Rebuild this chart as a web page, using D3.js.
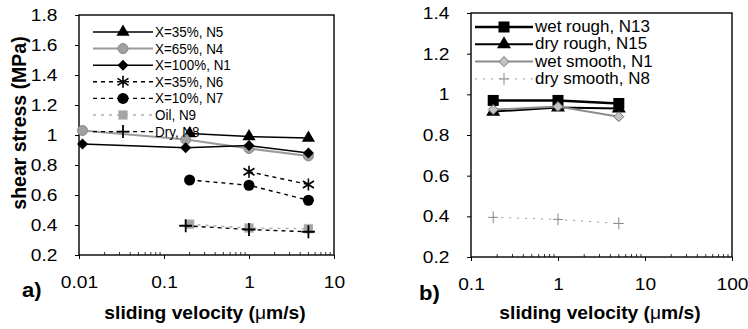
<!DOCTYPE html>
<html><head><meta charset="utf-8">
<script src="https://cdn.jsdelivr.net/npm/d3@7"></script>
<style>html,body{margin:0;padding:0;background:#fff}svg{display:block}</style>
</head><body><svg id="c" width="748" height="329"></svg>
<script>
// ---------- DATA ----------
// panel a)
const aLabels = ["X=35%, N5","X=65%, N4","X=100%, N1","X=35%, N6","X=10%, N7","Oil, N9","Dry, N8"];
const aN5x = [0.2, 1, 5],        aN5y = [1.01, 0.99, 0.98];
const aN4x = [0.011, 0.18, 1, 5], aN4y = [1.03, 0.97, 0.91, 0.86];
const aN1x = [0.011, 0.18, 1, 5], aN1y = [0.94, 0.915, 0.93, 0.88];
const aN6x = [1, 5],             aN6y = [0.755, 0.67];
const aN7x = [0.2, 1, 5],        aN7y = [0.70, 0.665, 0.565];
const aN9x = [0.2, 1, 5],        aN9y = [0.405, 0.38, 0.375];
const aN8x = [0.18, 1, 5],       aN8y = [0.395, 0.37, 0.355];
const aXTicks = [0.01, 0.1, 1, 10];
const aYTicks = [0.2, 0.4, 0.6, 0.8, 1, 1.2, 1.4, 1.6, 1.8];
// panel b)
const bLabels = ["wet rough, N13","dry rough, N15","wet smooth, N1","dry smooth, N8"];
const bN13x = [0.18, 1, 5], bN13y = [0.97, 0.97, 0.955];
const bN15x = [0.18, 1, 5], bN15y = [0.915, 0.935, 0.93];
const bN1x  = [0.18, 1, 5], bN1y  = [0.925, 0.94, 0.89];
const bN8x  = [0.18, 1, 5], bN8y  = [0.395, 0.385, 0.365];
const bXTicks = [0.1, 1, 10, 100];
const bYTicks = [0.2, 0.4, 0.6, 0.8, 1, 1.2, 1.4];
const xTitle = "sliding velocity (", xTitleMu = "\u03bc", xTitleEnd = "m/s)";
const yTitle = "shear stress (MPa)";

// ---------- DRAW ----------
const svg = d3.select("#c");
const FONT = "'Liberation Sans', Arial, Helvetica, sans-serif";
const fmt = d3.format("~g");

function zip(xs, ys){ return xs.map((x,i)=>[x, ys[i]]); }
function diamondPath(r){ return `M0,${-r}L${r},0L0,${r}L${-r},0Z`; }

function marker(g, type, x, y){
  const m = g.append("g").attr("transform", `translate(${x},${y})`);
  switch(type){
    case "tri": m.append("path").attr("d", d3.symbol(d3.symbolTriangle, 75)()).attr("fill","#000"); break;
    case "triB": m.append("path").attr("d", d3.symbol(d3.symbolTriangle, 85)()).attr("fill","#000"); break;
    case "circG": m.append("circle").attr("r",5).attr("fill","#a0a0a0").attr("stroke","#8a8a8a"); break;
    case "diam": m.append("path").attr("d", diamondPath(5.5)).attr("fill","#000"); break;
    case "star":
      m.append("path").attr("d","M0,-6V6M-5.5,-3.5L5.5,3.5M-5.5,3.5L5.5,-3.5").attr("stroke","#000").attr("stroke-width",1.6); break;
    case "circB": m.append("circle").attr("r",5.5).attr("fill","#000"); break;
    case "sqG": m.append("rect").attr("x",-4.5).attr("y",-4.5).attr("width",9).attr("height",9).attr("fill","#a4a4a4").attr("stroke","#c4c4c4").attr("stroke-dasharray","1,1"); break;
    case "plus": m.append("path").attr("d","M-6.5,0H6.5M0,-6.5V6.5").attr("stroke","#000").attr("stroke-width",1.8); break;
    case "sq": m.append("rect").attr("x",-5.5).attr("y",-5.5).attr("width",11).attr("height",11).attr("fill","#000"); break;
    case "diamG": m.append("path").attr("d", diamondPath(5)).attr("fill","#c4c4c4").attr("stroke","#707070").attr("stroke-width",1); break;
    case "plusG": m.append("path").attr("d","M-5,0H5M0,-6V6").attr("stroke","#888").attr("stroke-width",1); break;
  }
}

function text(g, x, y, str, opts){
  return g.append("text")
    .attr("transform", `translate(${x},${y}) scale(${opts.sx||1},1)`)
    .attr("font-family", FONT).attr("font-size", opts.size)
    .attr("font-weight", opts.weight||"normal")
    .attr("text-anchor", opts.anchor||"start")
    .attr("fill","#000").text(str);
}

function panel(cfg){
  const g = svg.append("g");
  const xs = d3.scaleLog().domain(cfg.xDomain).range([cfg.x0, cfg.x1]);
  const ys = d3.scaleLinear().domain(cfg.yDomain).range([cfg.y1, cfg.y0]);

  // y axis
  const ya = g.append("g").attr("transform", `translate(${cfg.x0},0)`)
    .call(d3.axisLeft(ys).tickValues(cfg.yTicks).tickFormat(fmt).tickSize(4).tickPadding(15));
  ya.select(".domain").remove();
  ya.selectAll("line").attr("stroke","#000");
  ya.selectAll("text").attr("font-family",FONT).attr("font-size",17).attr("fill","#000")
    .attr("transform","scale(1.13,1)");

  // x axis
  const xa = g.append("g").attr("transform", `translate(0,${cfg.y1})`)
    .call(d3.axisBottom(xs).tickValues(cfg.xTicks).tickFormat(fmt).tickSize(4).tickPadding(17));
  xa.select(".domain").remove();
  xa.selectAll("line").attr("stroke","#000");
  xa.selectAll("text").attr("font-family",FONT).attr("font-size",17).attr("fill","#000")
    .attr("transform","scale(1.13,1)");

  // minor ticks
  const minors = [];
  const lo = Math.log10(cfg.xDomain[0]), hi = Math.log10(cfg.xDomain[1]);
  for(let e=lo; e<hi; e++) for(let k=2;k<=9;k++) minors.push(k*Math.pow(10,e));
  g.selectAll(null).data(minors).enter().append("line")
    .attr("x1", d=>xs(d)).attr("x2", d=>xs(d))
    .attr("y1", cfg.y1).attr("y2", cfg.y1-3).attr("stroke","#000").attr("stroke-width",0.8);

  // frame
  g.append("rect").attr("x",cfg.x0).attr("y",cfg.y0).attr("width",cfg.x1-cfg.x0).attr("height",cfg.y1-cfg.y0)
    .attr("fill","none").attr("stroke","#000").attr("stroke-width",1.4);

  // series
  const line = d3.line().x(d=>xs(d[0])).y(d=>ys(d[1]));
  cfg.series.forEach(s=>{
    g.append("path").attr("d", line(s.pts)).attr("fill","none")
      .attr("stroke", s.color).attr("stroke-width", s.w).attr("stroke-dasharray", s.dash||null);
    s.pts.forEach(p=>marker(g, s.m, xs(p[0]), ys(p[1])));
  });

  // legend
  cfg.series.forEach((s,i)=>{
    const y = cfg.legY + i*cfg.legDy;
    g.append("line").attr("x1",cfg.legX0).attr("x2",cfg.legX1).attr("y1",y).attr("y2",y)
      .attr("stroke", s.color).attr("stroke-width", s.w).attr("stroke-dasharray", s.dash||null);
    marker(g, s.m, (cfg.legX0+cfg.legX1)/2, y);
    text(g, cfg.legX1+2, y+5, s.label, {size:cfg.legSize, sx:cfg.legSx});
  });

  // x title
  const t = g.append("text")
    .attr("transform", `translate(${(cfg.titleX)},319) scale(1.1,1)`)
    .attr("font-family",FONT).attr("font-size",17.5).attr("font-weight","bold").attr("text-anchor","middle");
  t.append("tspan").text(xTitle);
  t.append("tspan").attr("font-weight","normal").text(xTitleMu);
  t.append("tspan").text(xTitleEnd);

  text(g, cfg.tagX, cfg.tagY, cfg.tag, {size:20, weight:"bold", sx:1.1});
  return g;
}

panel({
  x0:79, x1:334, y0:15, y1:255, xDomain:[0.01,10], yDomain:[0.2,1.8],
  xTicks:aXTicks, yTicks:aYTicks,
  legX0:93, legX1:153, legY:32, legDy:16.6, legSize:14, legSx:0.96,
  titleX:205, tag:"a)", tagX:22, tagY:297,
  series:[
    {label:aLabels[0], pts:zip(aN5x,aN5y), m:"tri",   color:"#000", w:1.5},
    {label:aLabels[1], pts:zip(aN4x,aN4y), m:"circG", color:"#9a9a9a", w:2},
    {label:aLabels[2], pts:zip(aN1x,aN1y), m:"diam",  color:"#000", w:1.5},
    {label:aLabels[3], pts:zip(aN6x,aN6y), m:"star",  color:"#000", w:1.4, dash:"4,4"},
    {label:aLabels[4], pts:zip(aN7x,aN7y), m:"circB", color:"#000", w:1.4, dash:"4,4"},
    {label:aLabels[5], pts:zip(aN9x,aN9y), m:"sqG",   color:"#b0b0b0", w:1.4, dash:"3,5"},
    {label:aLabels[6], pts:zip(aN8x,aN8y), m:"plus",  color:"#000", w:1.4, dash:"4,4"}
  ]
});

panel({
  x0:471, x1:732, y0:13, y1:257, xDomain:[0.1,100], yDomain:[0.2,1.4],
  xTicks:bXTicks, yTicks:bYTicks,
  legX0:475, legX1:533, legY:27, legDy:17.3, legSize:16, legSx:1.06,
  titleX:600, tag:"b)", tagX:419, tagY:300,
  series:[
    {label:bLabels[0], pts:zip(bN13x,bN13y), m:"sq",    color:"#000", w:2.6},
    {label:bLabels[1], pts:zip(bN15x,bN15y), m:"triB",  color:"#000", w:2},
    {label:bLabels[2], pts:zip(bN1x,bN1y),   m:"diamG", color:"#8c8c8c", w:2},
    {label:bLabels[3], pts:zip(bN8x,bN8y),   m:"plusG", color:"#999", w:1, dash:"2,6"}
  ]
});

// y title (panel a)
svg.append("text").attr("transform","translate(26,123) rotate(-90)")
  .attr("font-family",FONT).attr("font-size",19.5).attr("font-weight","bold")
  .attr("text-anchor","middle").text(yTitle);
</script></body></html>
